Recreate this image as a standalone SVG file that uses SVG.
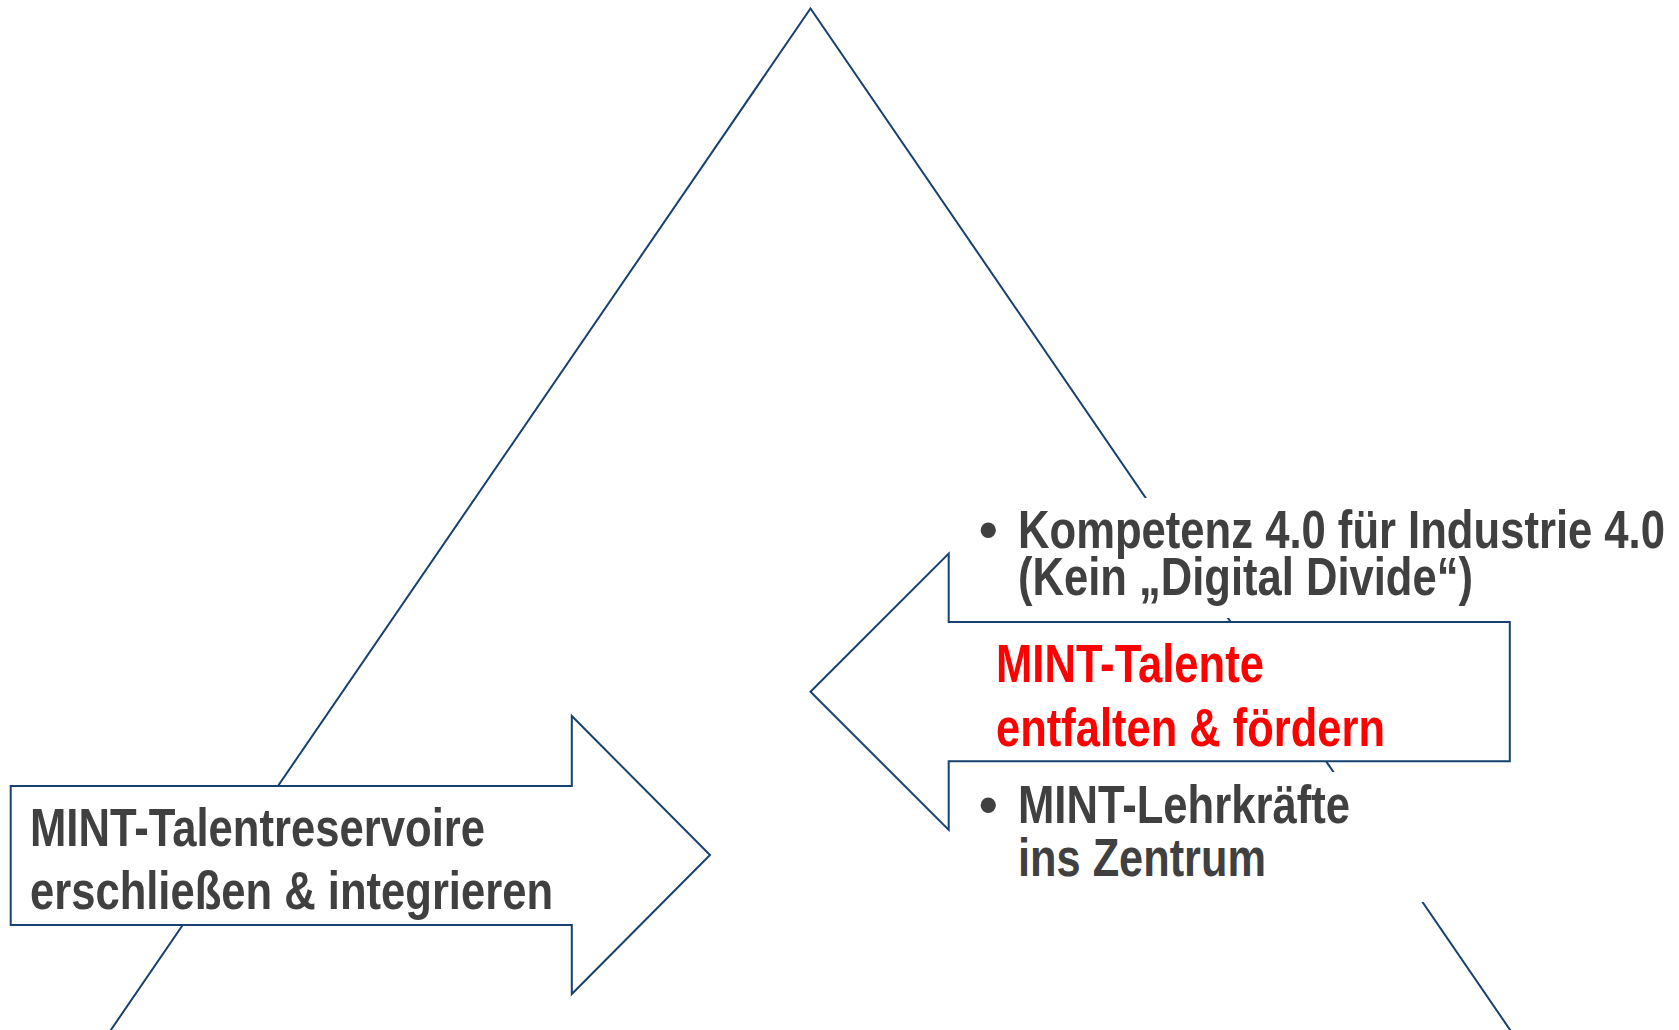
<svg xmlns="http://www.w3.org/2000/svg" width="1679" height="1030" viewBox="0 0 1679 1030">
<style>
.ln{fill:none;stroke:#17426f;stroke-width:2}
.arr{fill:#ffffff;stroke:#17426f;stroke-width:2;stroke-linejoin:miter}
.t{font-family:'Liberation Sans Narrow','Arial Narrow','Liberation Sans',sans-serif;font-weight:bold;font-size:53px;fill:#404040}
.red{fill:#ff0000}
.bg{fill:#ffffff}
</style>
<rect width="1679" height="1030" fill="#ffffff"/>
<g id="connectors">
<path id="triangle" class="ln" d="M104,1040 L810.5,8.5 L1517,1040"/>
</g>
<g id="node-kompetenz">
<rect class="bg" x="970" y="498" width="709" height="120"/>
<text class="t" x="979" y="548">•</text>
<text class="t" x="1018" y="548" textLength="647" lengthAdjust="spacingAndGlyphs">Kompetenz 4.0 für Industrie 4.0</text>
<text class="t" x="1018" y="595" textLength="455" lengthAdjust="spacingAndGlyphs">(Kein „Digital Divide“)</text>
</g>
<g id="node-lehrkraefte">
<rect class="bg" x="970" y="772" width="460" height="130"/>
<text class="t" x="979" y="823">•</text>
<text class="t" x="1018" y="823" textLength="332" lengthAdjust="spacingAndGlyphs">MINT-Lehrkräfte</text>
<text class="t" x="1018" y="876" textLength="248" lengthAdjust="spacingAndGlyphs">ins Zentrum</text>
</g>
<g id="node-talentreservoire">
<path class="arr" d="M10.7,786 L571.8,786 L571.8,716 L710,855 L571.8,994 L571.8,925 L10.7,925 Z"/>
<text class="t" x="30" y="846" textLength="455" lengthAdjust="spacingAndGlyphs">MINT-Talentreservoire</text>
<text class="t" x="30" y="909" textLength="523" lengthAdjust="spacingAndGlyphs">erschließen &amp; integrieren</text>
</g>
<g id="node-talente">
<path class="arr" d="M1509.8,622 L948.7,622 L948.7,553.6 L810.5,691.7 L948.7,829.9 L948.7,761.3 L1509.8,761.3 Z"/>
<text class="t red" x="996" y="682" textLength="268" lengthAdjust="spacingAndGlyphs">MINT-Talente</text>
<text class="t red" x="996" y="746" textLength="389" lengthAdjust="spacingAndGlyphs">entfalten &amp; fördern</text>
</g>
</svg>
